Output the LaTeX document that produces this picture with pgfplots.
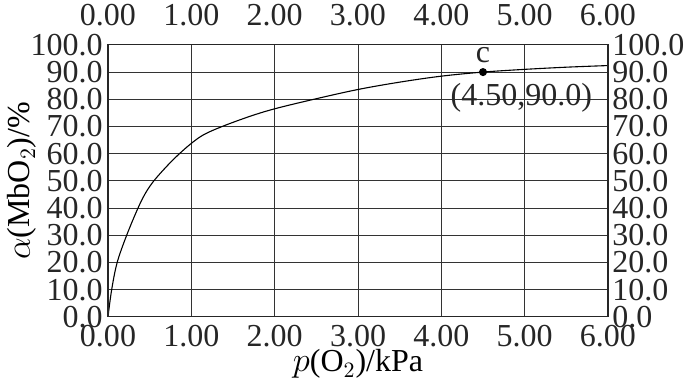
\documentclass[border=0pt]{standalone}
\usepackage{pgfplots}
\pgfplotsset{compat=1.18}
\usepackage{fontspec}
\setmainfont{Liberation Serif}
\begin{document}
\begin{tikzpicture}
\pgfplotsset{
  common/.style={
    scale only axis, width=250pt, height=136pt,
    xmin=0, xmax=6, ymin=0, ymax=100,
    xtick={0,1,2,3,4,5,6}, ytick={0,10,20,30,40,50,60,70,80,90,100},
    major tick length=0pt,
    axis line style={line width=0.6pt, black!85},
    tick label style={font=\fontsize{16}{16}\selectfont, inner sep=0pt, text=black!85},
    /pgf/number format/assume math mode=true,
    x tick label style={/pgf/number format/.cd, fixed, fixed zerofill, precision=2, /tikz/.cd},
    y tick label style={/pgf/number format/.cd, fixed, fixed zerofill, precision=1, /tikz/.cd},
  }
}
\begin{axis}[common,
  xticklabel pos=lower, yticklabel pos=left,
  x tick label style={anchor=north, yshift=-4pt},
  y tick label style={anchor=east, xshift=-2.5pt},
  grid=major,
  major grid style={line width=0.5pt, black!80},
  xlabel={\fontsize{16}{16}\selectfont $p$(O$_2$)/kPa},
  ylabel={\fontsize{16}{16}\selectfont $\alpha$(MbO$_2$)/\%},
  every axis x label/.style={at={(axis description cs:0.5,0)}, anchor=base, yshift=-27.5pt},
  every axis y label/.style={at={([xshift=-39pt]axis description cs:0,0.5)}, rotate=90, anchor=base},
  clip=false,
]
\addplot[black, line width=0.55pt, smooth, tension=0.55] coordinates {
  (0,0) (0.044,10) (0.11,20) (0.224,30) (0.36,40) (0.45,45.5) (0.55,50)
  (0.7,55.2) (0.84,59.5) (1.0,63.8) (1.15,67) (1.37,70) (1.7,73.7)
  (2.0,76.5) (2.47,80) (3.0,83.6)
  (3.5,86.3) (4.0,88.5) (4.5,90) (5.0,91) (5.5,91.8) (6.0,92.4)
};
\addplot[only marks, mark=*, mark size=1.8pt, black] coordinates {(4.5,90)};
\node[anchor=base, font=\fontsize{16}{16}\selectfont, text=black!85] at (axis cs:4.5,93.4) {c};
\node[anchor=center, inner sep=0pt, font=\fontsize{16}{16}\selectfont, text=black!85] at (axis cs:4.96,80.7) {(4.50,90.0)};
\path (axis description cs:-0.216,-0.239) rectangle (axis description cs:1.172,1.165);
\end{axis}
\begin{axis}[common,
  xticklabel pos=upper, yticklabel pos=right,
  x tick label style={anchor=south, yshift=9.5pt},
  y tick label style={anchor=west, xshift=2pt},
]
\end{axis}
\end{tikzpicture}
\end{document}
